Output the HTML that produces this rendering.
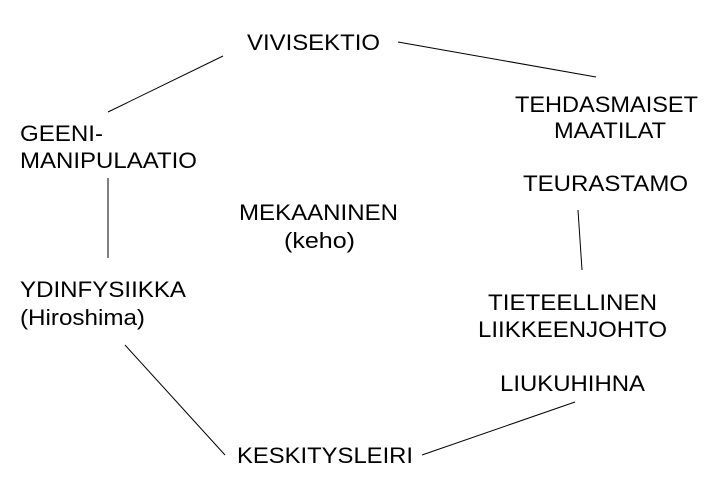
<!DOCTYPE html>
<html><head><meta charset="utf-8"><style>
html,body{margin:0;padding:0;background:#fff;}
svg{display:block;}
text{font-family:"Liberation Sans",Arial,sans-serif;font-size:22px;fill:#000;}
</style></head><body>
<svg width="707" height="480" viewBox="0 0 707 480" xmlns="http://www.w3.org/2000/svg">
<g stroke="#000" stroke-width="1" fill="none">
<line x1="223" y1="56" x2="108" y2="112"/>
<line x1="398" y1="42" x2="596" y2="77"/>
<line x1="108" y1="178" x2="108" y2="258"/>
<line x1="578" y1="210" x2="582" y2="270"/>
<line x1="125" y1="345" x2="225" y2="455"/>
<line x1="575" y1="402" x2="422" y2="455"/>
</g>
<text x="247" y="50" textLength="133" lengthAdjust="spacingAndGlyphs">VIVISEKTIO</text>
<text x="515" y="112" textLength="183" lengthAdjust="spacingAndGlyphs">TEHDASMAISET</text>
<text x="554" y="138" textLength="112" lengthAdjust="spacingAndGlyphs">MAATILAT</text>
<text x="523" y="191" textLength="165" lengthAdjust="spacingAndGlyphs">TEURASTAMO</text>
<text x="20" y="141" textLength="83" lengthAdjust="spacingAndGlyphs">GEENI-</text>
<text x="20" y="168" textLength="177" lengthAdjust="spacingAndGlyphs">MANIPULAATIO</text>
<text x="239" y="220" textLength="159" lengthAdjust="spacingAndGlyphs">MEKAANINEN</text>
<text x="284" y="248" textLength="71" lengthAdjust="spacingAndGlyphs">(keho)</text>
<text x="20" y="297" textLength="166" lengthAdjust="spacingAndGlyphs">YDINFYSIIKKA</text>
<text x="20" y="325" textLength="125" lengthAdjust="spacingAndGlyphs">(Hiroshima)</text>
<text x="488" y="310" textLength="169" lengthAdjust="spacingAndGlyphs">TIETEELLINEN</text>
<text x="478" y="337" textLength="189" lengthAdjust="spacingAndGlyphs">LIIKKEENJOHTO</text>
<text x="500" y="391" textLength="145" lengthAdjust="spacingAndGlyphs">LIUKUHIHNA</text>
<text x="237" y="463" textLength="176" lengthAdjust="spacingAndGlyphs">KESKITYSLEIRI</text>
</svg>
</body></html>
